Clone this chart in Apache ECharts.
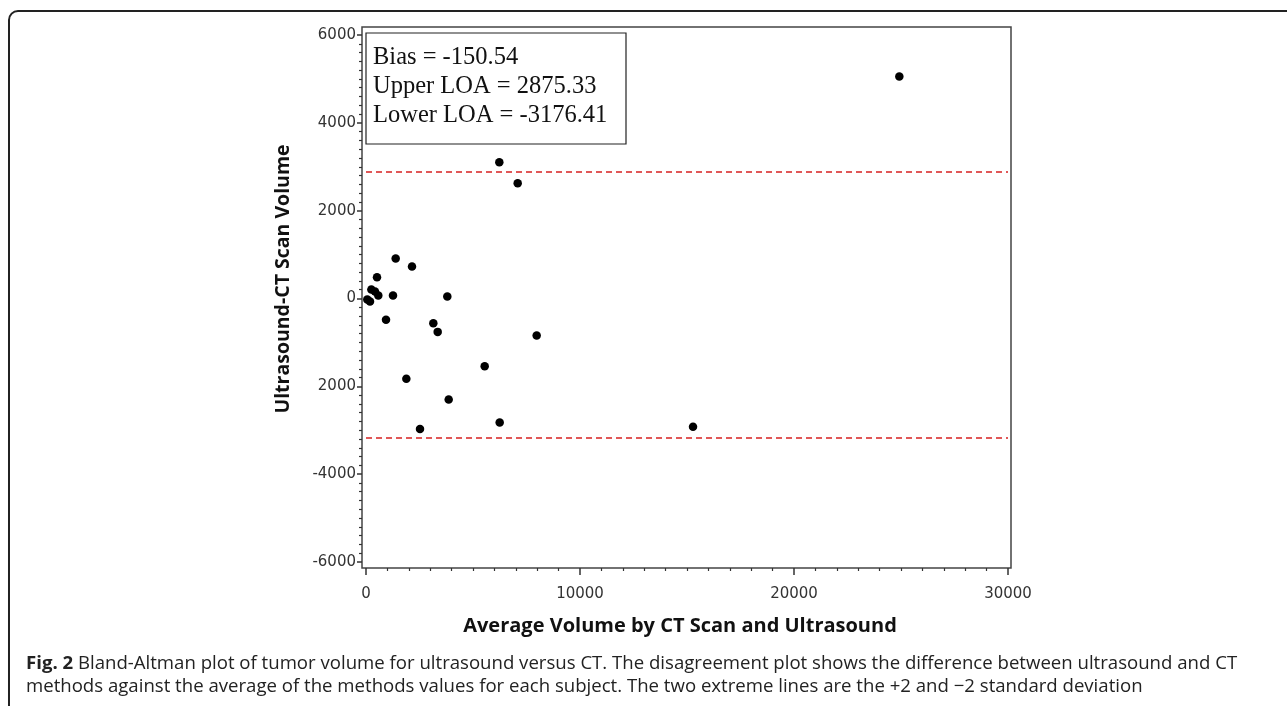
<!DOCTYPE html>
<html>
<head>
<meta charset="utf-8">
<script src="https://cdn.jsdelivr.net/npm/echarts@6/dist/echarts.min.js"></script>
<style>
html,body{margin:0;padding:0;background:#fff;}
#chart{width:1287px;height:706px;}
</style>
</head>
<body>
<div id="chart"></div>
<script>
// Average volume (x) vs difference ultrasound - CT (y)
const avgVolume = [60, 187, 250, 420, 575, 514, 935, 1262, 1387, 2150, 1885, 2524, 3146, 3350, 3800, 3864, 5546, 6247, 7975, 6230, 7088, 24922, 15281];
const diffVolume = [-23, -68, 205, 160, 68, 485, -485, 68, 911, 729, -1830, -2970, -562, -760, 46, -2300, -1540, -2825, -843, 3105, 2627, 5057, -2923];
const bias = -150.54;
const upperLOA = 2875.33;
const lowerLOA = -3176.41;
// tick labels as printed in the figure
const xTickLabels = {0: '0', 10000: '10000', 20000: '20000', 30000: '30000'};
const yTickLabels = {6000: '6000', 4000: '4000', 2000: '2000', 0: '0', '-2000': '2000', '-4000': '-4000', '-6000': '-6000'};
const xTitle = 'Average Volume by CT Scan and Ultrasound';
const yTitle = 'Ultrasound-CT Scan Volume';
const statLines = ['Bias = -150.54', 'Upper LOA = 2875.33', 'Lower LOA = -3176.41'];
const captionBold = 'Fig. 2';
const captionLine1 = ' Bland-Altman plot of tumor volume for ultrasound versus CT. The disagreement plot shows the difference between ultrasound and CT';
const captionLine2 = 'methods against the average of the methods values for each subject. The two extreme lines are the +2 and \u22122 standard deviation';

const points = avgVolume.map((x, i) => [x, diffVolume[i]]);

const chart = echarts.init(document.getElementById('chart'), null, {renderer: 'canvas'});
const labelFont = {fontFamily: 'DejaVu Sans', fontSize: 15, color: '#333'};

chart.setOption({
  animation: false,
  backgroundColor: '#fff',
  grid: [
    {left: 366, right: 279, top: 35, bottom: 144, show: false},
    {left: 362, right: 276, top: 27, bottom: 138, show: true, borderColor: '#444', borderWidth: 1.5, backgroundColor: 'transparent'}
  ],
  xAxis: [
    {
      type: 'value', gridIndex: 0, min: 0, max: 30000, interval: 10000, offset: 6,
      axisLine: {show: false, onZero: false},
      axisTick: {show: true, length: 7, lineStyle: {color: '#333', width: 1.5}},
      minorTick: {show: true, splitNumber: 10, length: 3, lineStyle: {color: '#333', width: 1.2}},
      axisLabel: Object.assign({margin: 19, formatter: v => (xTickLabels[v] !== undefined ? xTickLabels[v] : String(v))}, labelFont),
      splitLine: {show: false}
    },
    {type: 'value', gridIndex: 1, min: 0, max: 1, show: false}
  ],
  yAxis: [
    {
      type: 'value', gridIndex: 0, min: -6000, max: 6000, interval: 2000, offset: 4,
      axisLine: {show: false, onZero: false},
      axisTick: {show: true, length: 5, lineStyle: {color: '#333', width: 1.5}},
      minorTick: {show: true, splitNumber: 10, length: 3, lineStyle: {color: '#333', width: 1.2}},
      axisLabel: Object.assign({margin: 6, formatter: v => (yTickLabels[v] !== undefined ? yTickLabels[v] : String(v))}, labelFont),
      splitLine: {show: false}
    },
    {type: 'value', gridIndex: 1, min: 0, max: 1, show: false}
  ],
  series: [
    {
      type: 'scatter', xAxisIndex: 0, yAxisIndex: 0,
      data: points, symbol: 'circle', symbolSize: 8.5,
      itemStyle: {color: '#000', opacity: 1},
      markLine: {
        silent: true, symbol: 'none', label: {show: false},
        lineStyle: {color: '#d62020', type: [6, 4], width: 1.5, opacity: 1},
        data: [{yAxis: upperLOA}, {yAxis: lowerLOA}]
      }
    }
  ],
  graphic: [
    {type: 'rect', shape: {x: 9, y: 11, width: 1300, height: 720, r: 9}, style: {fill: 'none', stroke: '#222', lineWidth: 2}, silent: true},
    {type: 'rect', shape: {x: 366, y: 33, width: 260, height: 111}, style: {fill: '#fff', stroke: '#222', lineWidth: 1.2}, z: 10},
    {type: 'text', left: 373, top: 43, z: 11, style: {text: statLines.join('\n'), font: '24.5px "Liberation Serif"', lineHeight: 29, fill: '#111'}},
    {type: 'text', x: 283, y: 279, rotation: Math.PI / 2, style: {text: yTitle, font: 'bold 19.5px "Open Sans"', fill: '#111', align: 'center', verticalAlign: 'middle'}},
    {type: 'text', x: 680, y: 626, style: {text: xTitle, font: 'bold 20px "Open Sans"', fill: '#111', align: 'center', verticalAlign: 'middle'}},
    {type: 'text', x: 26, y: 673, style: {
      text: '{b|' + captionBold + '}{n|' + captionLine1 + '}',
      verticalAlign: 'bottom',
      rich: {
        b: {font: 'bold 18.6px "Open Sans"', fill: '#222'},
        n: {font: '18.6px "Open Sans"', fill: '#222'}
      }
    }},
    {type: 'text', x: 26, y: 696, style: {text: captionLine2, font: '18.6px "Open Sans"', fill: '#222', verticalAlign: 'bottom'}}
  ]
});
</script>
</body>
</html>
